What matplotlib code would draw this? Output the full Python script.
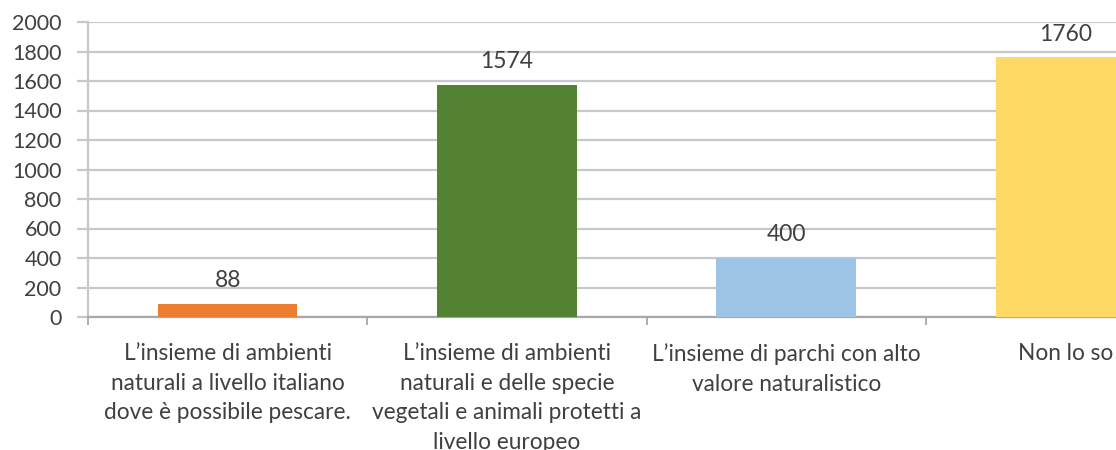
import matplotlib.pyplot as plt
import numpy as np

categories = [
    "L\u2019insieme di ambienti\nnaturali a livello italiano\ndove \u00e8 possibile pescare.",
    "L\u2019insieme di ambienti\nnaturali e delle specie\nvegetali e animali protetti a\nlivello europeo",
    "L\u2019insieme di parchi con alto\nvalore naturalistico",
    "Non lo so",
]
values = [88, 1574, 400, 1760]
colors = ["#ED7D31", "#548235", "#9DC3E6", "#FFD966"]
yticks = np.arange(0, 2001, 200)

plt.rcParams['font.family'] = ['Lato', 'DejaVu Sans']
text_col = "#404040"
grid_col = "#c8c8c8"

fig = plt.figure(figsize=(11.16, 4.5), dpi=100)
# axes deliberately runs past the right edge: the reference is cropped there
ax = fig.add_axes([88/1116, 1 - 317/450, (1205 - 88)/1116, (317 - 22)/450])

x = np.arange(len(values))
ax.bar(x, values, width=0.5, color=colors, zorder=3)
for xi, v in zip(x, values):
    ax.text(xi, v + 85, str(v), ha='center', va='bottom', fontsize=16.5, color=text_col)

ax.set_xlim(-0.5, len(values) - 0.5)
ax.set_ylim(0, 2000)
ax.set_yticks(yticks)
ax.set_yticklabels([str(t) for t in yticks], fontsize=15.5, color=text_col)
ax.yaxis.grid(True, color=grid_col, linewidth=1.6, zorder=0)
ax.tick_params(axis='y', length=8, width=1.6, color=grid_col, pad=11)

ax.set_xticks(np.arange(len(values) + 1) - 0.5)
ax.set_xticklabels([])
ax.tick_params(axis='x', length=6, width=1.2, color="#a0a0a0")
ax.set_xticks(x, minor=True)
ax.set_xticklabels(categories, minor=True, fontsize=16.3, color=text_col, linespacing=1.5)
ax.tick_params(axis='x', which='minor', length=0, pad=19)

for s in ['top', 'right']:
    ax.spines[s].set_visible(False)
ax.spines['left'].set_color(grid_col)
ax.spines['left'].set_linewidth(1.6)
ax.spines['bottom'].set_color("#a8a8a8")
ax.spines['bottom'].set_linewidth(1.6)

fig.savefig('out.png', dpi=100)
